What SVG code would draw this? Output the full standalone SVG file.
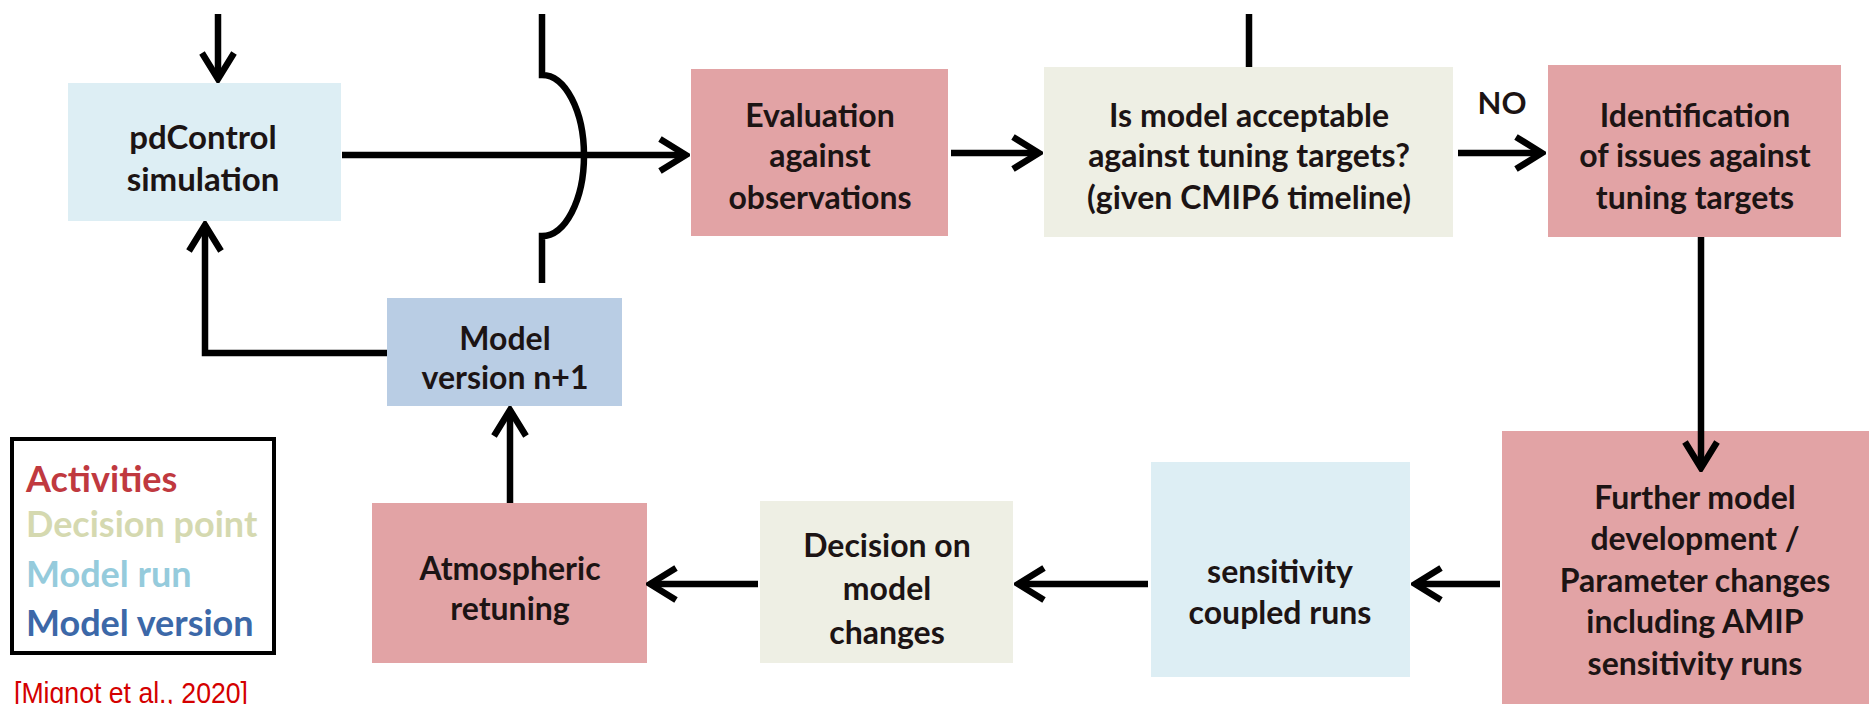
<svg xmlns="http://www.w3.org/2000/svg" width="1869" height="704" viewBox="0 0 1869 704">
<style>
.box text{font-family:Lato,"Liberation Sans",sans-serif;font-weight:bold;font-size:32px;fill:#1c1414;text-anchor:middle}
.act{fill:#e2a3a5}
.run{fill:#ddeef4}
.dec{fill:#eeefe4}
.ver{fill:#b9cde4}
.conn path,.conn line{fill:none;stroke:#000;stroke-width:6.5}
.lg{font-family:Lato,"Liberation Sans",sans-serif;font-weight:bold;font-size:36px}
</style>
<defs>
<marker id="arr" viewBox="0 0 34 38" markerWidth="34" markerHeight="38" refX="30" refY="19" orient="auto" markerUnits="userSpaceOnUse">
<path d="M4,3 L30,19 L4,35" fill="none" stroke="#000" stroke-width="6.5"/>
</marker>
</defs>
<rect width="1869" height="704" fill="#fff"/>

<g id="pdcontrol" class="box">
<rect class="run" x="68" y="83" width="273" height="138"/>
<text x="203" y="149" style="font-size:33px">pdControl</text>
<text x="203" y="191" style="font-size:33px">simulation</text>
</g>
<g id="evaluation" class="box">
<rect class="act" x="691" y="69" width="257" height="167"/>
<text x="820" y="127">Evaluation</text>
<text x="820" y="167">against</text>
<text x="820" y="209">observations</text>
</g>
<g id="acceptable" class="box">
<rect class="dec" x="1044" y="67" width="409" height="170"/>
<text x="1249" y="127">Is model acceptable</text>
<text x="1249" y="167">against tuning targets?</text>
<text x="1249" y="209">(given CMIP6 timeline)</text>
</g>
<g id="identification" class="box">
<rect class="act" x="1548" y="65" width="293" height="172"/>
<text x="1695" y="127">Identification</text>
<text x="1695" y="167">of issues against</text>
<text x="1695" y="209">tuning targets</text>
</g>
<g id="further" class="box">
<rect class="act" x="1502" y="431" width="367" height="273"/>
<text x="1695" y="509">Further model</text>
<text x="1695" y="550">development  /</text>
<text x="1695" y="592">Parameter changes</text>
<text x="1695" y="633">including AMIP</text>
<text x="1695" y="675">sensitivity runs</text>
</g>
<g id="sensitivity" class="box">
<rect class="run" x="1151" y="462" width="259" height="215"/>
<text x="1280" y="583">sensitivity</text>
<text x="1280" y="624">coupled runs</text>
</g>
<g id="decision" class="box">
<rect class="dec" x="760" y="501" width="253" height="162"/>
<text x="887" y="557">Decision on</text>
<text x="887" y="600">model</text>
<text x="887" y="644">changes</text>
</g>
<g id="retuning" class="box">
<rect class="act" x="372" y="503" width="275" height="160"/>
<text x="510" y="580">Atmospheric</text>
<text x="510" y="620">retuning</text>
</g>
<g id="version" class="box">
<rect class="ver" x="387" y="298" width="235" height="108"/>
<text x="505" y="350">Model</text>
<text x="505" y="389">version n+1</text>
</g>

<g id="connectors" class="conn">
<line x1="218" y1="14" x2="218" y2="79" marker-end="url(#arr)"/>
<path d="M542,14 V75 A42,80.5 0 0 1 542,236 V283"/>
<line x1="342" y1="155" x2="686" y2="155" marker-end="url(#arr)"/>
<line x1="951" y1="153" x2="1039" y2="153" marker-end="url(#arr)"/>
<line x1="1249" y1="14" x2="1249" y2="67"/>
<line x1="1458" y1="153" x2="1542" y2="153" marker-end="url(#arr)"/>
<line x1="1701" y1="237" x2="1701" y2="468" marker-end="url(#arr)"/>
<line x1="1500" y1="584" x2="1415" y2="584" marker-end="url(#arr)"/>
<line x1="1148" y1="584" x2="1018" y2="584" marker-end="url(#arr)"/>
<line x1="758" y1="584" x2="650" y2="584" marker-end="url(#arr)"/>
<line x1="510" y1="503" x2="510" y2="410" marker-end="url(#arr)"/>
<path d="M387,353 H205 V225" marker-end="url(#arr)"/>
</g>
<text x="1502" y="114" style="font-family:Lato,'Liberation Sans',sans-serif;font-weight:bold;font-size:31px;fill:#1c1414;text-anchor:middle">NO</text>

<g id="legend">
<rect x="12" y="439" width="262" height="214" fill="#fff" stroke="#000" stroke-width="4"/>
<text class="lg" x="26" y="492" fill="#c0393f">Activities</text>
<text class="lg" x="26" y="537" fill="#d5d9b0">Decision point</text>
<text class="lg" x="26" y="587" fill="#95cbdc">Model run</text>
<text class="lg" x="26" y="636" fill="#3c68a8">Model version</text>
</g>
<text x="14" y="703" font-family="'Liberation Sans',Arial,sans-serif" font-size="30" fill="#d40000" textLength="234" lengthAdjust="spacingAndGlyphs">[Mignot et al., 2020]</text>
</svg>
